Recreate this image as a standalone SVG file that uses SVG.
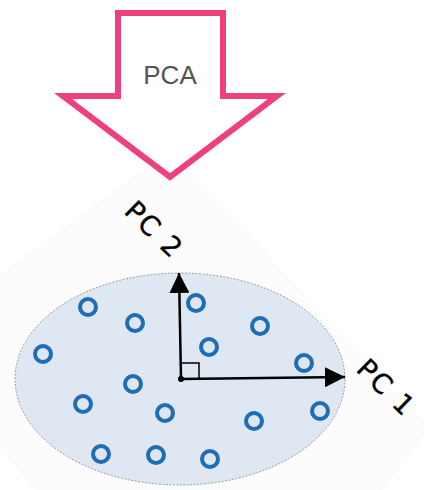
<svg xmlns="http://www.w3.org/2000/svg" width="424" height="490" viewBox="0 0 424 490">
<defs>
<style>
.pt{fill:none;stroke:#1f6db5;stroke-width:4}
.ax{stroke:#000;stroke-width:2.5;fill:none}
.lbl{font-family:"DejaVu Sans",sans-serif;font-size:27px;letter-spacing:2px;fill:#000;stroke:#000;stroke-width:0.4}
</style>
<marker id="ah" viewBox="0 0 10 10" refX="10" refY="5" markerWidth="20" markerHeight="20" markerUnits="userSpaceOnUse" orient="auto">
<path d="M0,0 L10,5 L0,10 Z" fill="#000"/>
</marker>
</defs>
<rect width="424" height="490" fill="#fff"/>
<polygon points="170,150 430,428 360,520 60,520 -50,390 -50,310" fill="#fcfcfc"/>
<g id="pca-arrow">
<polygon points="118,13 223,13 223,96 277,96 170,177 63,96 118,96" fill="#fff" stroke="#ee3f7e" stroke-width="6" stroke-linejoin="miter"/>
<text x="170" y="84" text-anchor="middle" font-family="Liberation Sans,Arial,sans-serif" font-size="26" fill="#555">PCA</text>
</g>
<g id="cloud">
<ellipse cx="180" cy="379" rx="165" ry="106" fill="#dfe7f3" stroke="#999" stroke-width="1" stroke-dasharray="2 1.5"/>
</g>
<g id="points">
<circle class="pt" cx="88" cy="307" r="8"/>
<circle class="pt" cx="135" cy="323" r="8"/>
<circle class="pt" cx="196" cy="303" r="8"/>
<circle class="pt" cx="260" cy="326" r="8"/>
<circle class="pt" cx="43" cy="354" r="8"/>
<circle class="pt" cx="209" cy="347" r="8"/>
<circle class="pt" cx="304" cy="363" r="8"/>
<circle class="pt" cx="133" cy="384" r="8"/>
<circle class="pt" cx="83" cy="404" r="8"/>
<circle class="pt" cx="165" cy="413" r="8"/>
<circle class="pt" cx="254" cy="421" r="8"/>
<circle class="pt" cx="320" cy="411" r="8"/>
<circle class="pt" cx="101" cy="454" r="8"/>
<circle class="pt" cx="156" cy="455" r="8"/>
<circle class="pt" cx="210" cy="459" r="8"/>
</g>
<g id="axes">
<line class="ax" x1="181" y1="379" x2="179" y2="273" marker-end="url(#ah)"/>
<line class="ax" x1="181" y1="379" x2="345" y2="377" marker-end="url(#ah)"/>
<polyline points="182,363 199,363 199,378" fill="none" stroke="#000" stroke-width="1.5"/>
<circle cx="181" cy="379" r="3" fill="#000"/>
</g>
<g id="labels">
<text class="lbl" transform="translate(154,230) rotate(44)" text-anchor="middle" dy="9">PC 2</text>
<text class="lbl" transform="translate(386,388) rotate(44)" text-anchor="middle" dy="9">PC 1</text>
</g>
</svg>
